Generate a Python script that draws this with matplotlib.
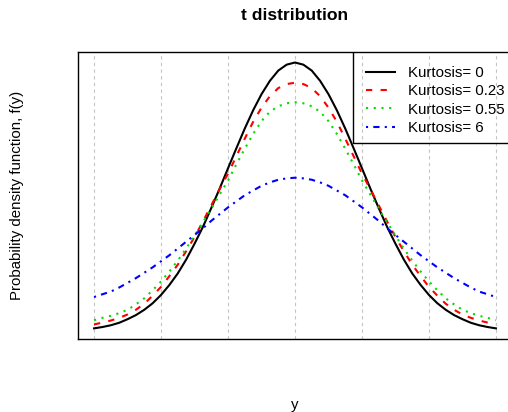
import matplotlib
matplotlib.use('Agg')
import matplotlib.pyplot as plt
from matplotlib.patches import Rectangle

plt.rcParams['font.family'] = ['Liberation Sans', 'DejaVu Sans']

x_half = [-3, -2.875, -2.75, -2.625, -2.5, -2.375, -2.25, -2.125, -2,
          -1.875, -1.75, -1.625, -1.5, -1.375, -1.25, -1.125, -1,
          -0.875, -0.75, -0.625, -0.5, -0.375, -0.25, -0.125, 0]
k0 = [0.0044, 0.0064, 0.009, 0.0127, 0.018, 0.0241, 0.032, 0.0417, 0.054,
      0.0689, 0.086, 0.1065, 0.130, 0.155, 0.183, 0.2119, 0.242,
      0.2718, 0.301, 0.3281, 0.352, 0.3718, 0.387, 0.3958, 0.399]
k023 = [0.0102, 0.013, 0.016, 0.020, 0.025, 0.032, 0.041, 0.053, 0.066,
        0.082, 0.099, 0.119, 0.140, 0.163, 0.187, 0.211, 0.234,
        0.260, 0.286, 0.311, 0.332, 0.349, 0.361, 0.367, 0.369]
k055 = [0.0165, 0.020, 0.023, 0.027, 0.032, 0.040, 0.049, 0.061, 0.074,
        0.089, 0.105, 0.123, 0.142, 0.162, 0.182, 0.203, 0.224,
        0.248, 0.271, 0.293, 0.312, 0.326, 0.334, 0.3385, 0.340]
k6 = [0.0509, 0.055, 0.059, 0.065, 0.072, 0.079, 0.087, 0.095, 0.104,
      0.113, 0.123, 0.133, 0.143, 0.153, 0.164, 0.174, 0.184,
      0.193, 0.202, 0.209, 0.216, 0.221, 0.225, 0.227, 0.228]
labels = ['Kurtosis= 0', 'Kurtosis= 0.23', 'Kurtosis= 0.55', 'Kurtosis= 6']
grid_x = [-3, -2, -1, 0, 1, 2, 3]


def mirror(h):
    return h + h[-2::-1]


xs = x_half + [-v for v in x_half[-2::-1]]

fig = plt.figure(figsize=(5.08, 4.12), dpi=100)
ax = fig.add_axes([78 / 508, 73 / 412, 434 / 508, 287 / 412])

ax.plot(xs, mirror(k0), color='black', lw=1.5, label=labels[0])
ax.plot(xs, mirror(k023), color='red', lw=1.5, ls=(0, (3, 4)), label=labels[1])
ax.plot(xs, mirror(k055), color='#00dd00', lw=1.5, ls=(0, (1, 2.7)), label=labels[2])
ax.plot(xs, mirror(k6), color='blue', lw=1.5, ls=(0, (1, 2.5, 3, 2.5)), label=labels[3])

ax.set_xlim(-3.24, 3.24)
ax.set_ylim(-0.0114, 0.4146)
ax.set_xticks(grid_x)
ax.set_yticks([])
ax.tick_params(length=0, labelbottom=False)
ax.grid(axis='x', color='#c4c4c4', lw=0.8, ls=(0, (3, 3)))
ax.set_axisbelow(True)
for s in ax.spines.values():
    s.set_linewidth(1.0)

ax.add_patch(Rectangle((0.633, 0.682), 0.4, 0.4, transform=ax.transAxes,
                       fill=False, lw=1.0, ec='black', clip_on=True))
ax.legend(loc='upper left', bbox_to_anchor=(0.632, 1.0), frameon=False,
          fontsize=10.8, handlelength=1.93, handletextpad=0.85,
          borderpad=0.93, borderaxespad=0, labelspacing=0.29)

fig.text(295 / 508, 1 - 15 / 412, 't distribution', ha='center', va='center',
         fontsize=12.6, fontweight='bold')
fig.text(17 / 508, 1 - 195 / 412, 'Probability density function, f(y)',
         rotation=90, ha='center', va='center', fontsize=10.8)
fig.text(295 / 508, 1 - 405 / 412, 'y', ha='center', va='center', fontsize=10.8)

fig.savefig('out.png', dpi=100)
